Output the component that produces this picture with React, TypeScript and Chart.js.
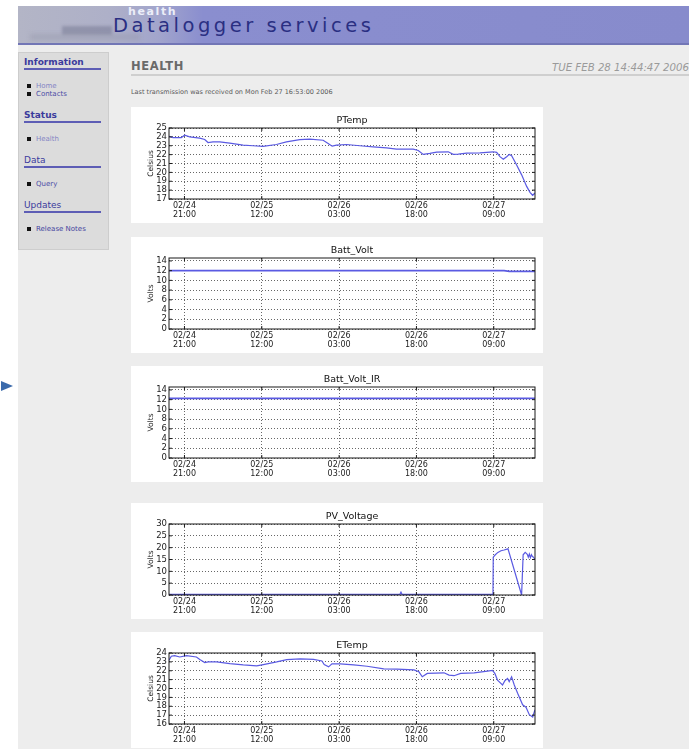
import React, { useEffect, useRef } from "react";
import { Chart, registerables } from "chart.js";

Chart.register(...registerables);

// Time axis: hours counted from 02/24 00:00
const axisStartHour = 18;
const axisEndHour = 89;
const tickHours = [21, 36, 51, 66, 81];
const tickDates = ["02/24", "02/25", "02/26", "02/26", "02/27"];
const tickTimes = ["21:00", "12:00", "03:00", "18:00", "09:00"];

// PTemp (Celsius)
const pTempHours = [18.0, 18.78, 20.39, 21.04, 22.01, 23.95, 24.93, 25.57, 26.54, 27.84, 29.78, 32.37, 34.31, 36.25, 38.84, 40.78, 43.37, 45.31, 47.9, 48.87, 49.65, 50.49, 52.43, 55.02, 57.61, 60.2, 62.14, 65.38, 66.35, 67.32, 68.61, 69.91, 72.17, 73.14, 74.11, 75.73, 78.32, 80.91, 81.56, 82.2, 82.85, 83.5, 84.01, 84.47, 85.44, 86.41, 87.38, 88.03, 88.54, 89.0];
const pTempValues = [24.07, 23.92, 23.92, 24.18, 24.0, 23.85, 23.7, 23.36, 23.44, 23.44, 23.3, 23.07, 23.0, 22.92, 23.14, 23.44, 23.7, 23.74, 23.62, 23.25, 22.95, 23.07, 23.14, 23.0, 22.88, 22.77, 22.62, 22.62, 22.47, 22.03, 22.14, 22.29, 22.32, 22.03, 22.06, 22.17, 22.2, 22.32, 22.25, 21.77, 21.47, 21.77, 22.03, 21.88, 20.84, 19.72, 18.42, 17.75, 17.42, 17.67];
const pTempTicks = [17, 18, 19, 20, 21, 22, 23, 24, 25];

// Batt_Volt (Volts)
const battVoltHours = [18, 36, 54, 72, 83, 84, 89];
const battVoltValues = [12.0, 12.0, 12.0, 12.0, 12.0, 11.85, 11.85];

// Batt_Volt_IR (Volts)
const battVoltIrHours = [18, 36, 54, 72, 89];
const battVoltIrValues = [12.25, 12.25, 12.25, 12.25, 12.25];
const voltTicks = [0, 2, 4, 6, 8, 10, 12, 14];

// PV_Voltage (Volts)
const pvHours = [18, 62.8, 63.0, 63.2, 80.85, 80.9, 81.3, 81.8, 82.4, 83.0, 83.76, 86.4, 86.7, 87.1, 87.5, 87.7, 87.9, 88.1, 88.3, 88.5, 88.7, 89];
const pvValues = [0.3, 0.3, 1.2, 0.3, 0.3, 16, 17, 18, 18.7, 19.0, 19.5, 0, 17, 18, 17.2, 16, 17.3, 15.8, 17, 16.2, 16, 15];
const pvTicks = [0, 5, 10, 15, 20, 25, 30];

// ETemp (Celsius)
const eTempHours = [18, 18.45, 19.1, 20.08, 21.37, 23.32, 23.97, 24.94, 25.59, 27.22, 29.81, 32.41, 35.0, 36.3, 38.9, 40.84, 43.44, 46.04, 47.66, 48.11, 48.96, 49.61, 51.23, 53.83, 56.42, 59.67, 62.26, 65.51, 66.48, 67.13, 68.1, 71.35, 72.32, 73.29, 74.59, 77.19, 79.78, 80.75, 81.21, 81.73, 82.38, 82.7, 83.16, 83.68, 84.0, 84.46, 84.98, 85.63, 86.6, 87.25, 87.9, 88.55, 89.0];
const eTempValues = [23.18, 23.63, 23.7, 23.55, 23.7, 23.55, 23.26, 22.92, 23.0, 23.0, 22.81, 22.66, 22.55, 22.7, 23.0, 23.26, 23.33, 23.29, 23.1, 22.7, 22.44, 22.77, 22.77, 22.66, 22.51, 22.22, 22.18, 22.1, 21.88, 21.32, 21.7, 21.77, 21.51, 21.44, 21.7, 21.77, 21.96, 22.03, 21.7, 20.95, 20.58, 20.4, 20.88, 21.14, 20.77, 21.32, 20.4, 19.46, 18.16, 17.9, 17.05, 16.79, 17.6];
const eTempTicks = [16, 17, 18, 19, 20, 21, 22, 23, 24];

const FONT = '"DejaVu Sans", Verdana, sans-serif';
const LINE_COLOR = "#5a5ae2";

// Solid frame around the plot area with short inward tick marks on all four sides
const framePlugin = {
  id: "plotFrame",
  afterDraw(chart: any) {
    const { ctx, chartArea } = chart;
    const { left, top, right, bottom } = chartArea;
    const xs = chart.scales.x;
    const ys = chart.scales.y;
    ctx.save();
    ctx.strokeStyle = "#1a1a1a";
    ctx.lineWidth = 1;
    ctx.strokeRect(left, top, right - left, bottom - top);
    ctx.beginPath();
    for (const t of xs.ticks) {
      const px = xs.getPixelForValue(t.value);
      ctx.moveTo(px, bottom);
      ctx.lineTo(px, bottom - 3);
      ctx.moveTo(px, top);
      ctx.lineTo(px, top + 3);
    }
    for (const t of ys.ticks) {
      const py = ys.getPixelForValue(t.value);
      ctx.moveTo(left, py);
      ctx.lineTo(left + 3, py);
      ctx.moveTo(right, py);
      ctx.lineTo(right - 3, py);
    }
    ctx.stroke();
    ctx.restore();
  },
};

type SeriesProps = {
  title: string;
  yLabel: string;
  hours: number[];
  values: number[];
  yTicks: number[];
  yMax: number;
  top: number;
  lineWidth?: number;
};

function SeriesChart({ title, yLabel, hours, values, yTicks, yMax, top, lineWidth = 1.2 }: SeriesProps) {
  const ref = useRef<HTMLCanvasElement | null>(null);

  useEffect(() => {
    if (!ref.current) return;
    const gridStyle = {
      color: "rgba(0,0,0,0.75)",
      lineWidth: 0.8,
      drawTicks: false,
    };
    const chart = new Chart(ref.current, {
      type: "line",
      data: {
        datasets: [
          {
            data: hours.map((h, i) => ({ x: h, y: values[i] })),
            borderColor: LINE_COLOR,
            borderWidth: lineWidth,
            pointRadius: 0,
            tension: 0,
            fill: false,
          },
        ],
      },
      options: {
        animation: false,
        responsive: false,
        maintainAspectRatio: false,
        layout: { padding: { left: 0, right: 8, top: 0, bottom: 0 } },
        plugins: {
          legend: { display: false },
          tooltip: { enabled: false },
          title: {
            display: true,
            text: title,
            fullSize: false,
            color: "#111",
            font: { family: FONT, size: 9.5, weight: "normal" },
            padding: { top: 8, bottom: 1.6 },
          },
        },
        scales: {
          x: {
            type: "linear",
            min: axisStartHour,
            max: axisEndHour,
            afterBuildTicks: (s: any) => {
              s.ticks = tickHours.map((v) => ({ value: v }));
            },
            afterFit: (s: any) => {
              s.height = 24;
            },
            ticks: {
              autoSkip: false,
              maxRotation: 0,
              padding: 2,
              color: "#222",
              font: { family: FONT, size: 8, lineHeight: 1.15 },
              callback: (v: any) => {
                const i = tickHours.indexOf(Number(v));
                return i >= 0 ? [tickDates[i], tickTimes[i]] : "";
              },
            },
            grid: gridStyle,
            border: { display: false, dash: [1, 2] },
          },
          y: {
            min: yTicks[0],
            max: yMax,
            afterBuildTicks: (s: any) => {
              s.ticks = yTicks.map((v) => ({ value: v }));
            },
            afterFit: (s: any) => {
              s.width = 38;
            },
            ticks: {
              autoSkip: false,
              padding: 2,
              color: "#222",
              font: { family: FONT, size: 8.5 },
            },
            title: {
              display: true,
              text: yLabel,
              color: "#222",
              font: { family: FONT, size: 7.5 },
              padding: { top: 15.5, bottom: 0 },
            },
            grid: gridStyle,
            border: { display: false, dash: [1, 2] },
          },
        },
      },
      plugins: [framePlugin],
    } as any);
    return () => chart.destroy();
  }, []);

  return (
    <canvas
      ref={ref}
      width={412}
      height={116}
      style={{ position: "absolute", left: 131, top, width: 412, height: 116, background: "#fff" }}
    />
  );
}

const txt = (extra: React.CSSProperties): React.CSSProperties => ({
  position: "absolute",
  whiteSpace: "nowrap",
  lineHeight: 1.2,
  ...extra,
});

function Bullet({ top }: { top: number }) {
  return <div style={{ position: "absolute", left: 27, top, width: 4, height: 4, background: "#111" }} />;
}

function SideHeading({ label, top, bold }: { label: string; top: number; bold: boolean }) {
  return (
    <>
      <div style={txt({ left: 24, top: top - 6, fontSize: 9, fontWeight: bold ? "bold" : "normal", color: "#3b3b9c" })}>{label}</div>
      <div style={{ position: "absolute", left: 24, top: top + 5, width: 77, height: 2, background: "#5d5db5" }} />
    </>
  );
}

function SideLink({ label, top, color }: { label: string; top: number; color: string }) {
  return (
    <>
      <Bullet top={top - 2} />
      <div style={txt({ left: 36, top: top - 4.5, fontSize: 7, color })}>{label}</div>
    </>
  );
}

export default function App() {
  return (
    <div
      style={{
        position: "absolute",
        left: 0,
        top: 0,
        width: 695,
        height: 749,
        overflow: "hidden",
        background: "#fff",
        fontFamily: FONT,
      }}
    >
      {/* content background */}
      <div style={{ position: "absolute", left: 18, top: 44, width: 671, height: 705, background: "#ededed" }} />

      {/* header banner */}
      <div
        style={{
          position: "absolute",
          left: 18,
          top: 6,
          width: 671,
          height: 37,
          background: "linear-gradient(90deg, #b3b5c6 0px, #aeb0c8 90px, #a2a5cc 140px, #8a8ecf 185px, #878bcc 100%)",
          borderBottom: "2px solid #7276b6",
        }}
      />
      <div style={{ position: "absolute", left: 62, top: 26, width: 50, height: 9, background: "rgba(90,92,120,0.35)", filter: "blur(1.5px)" }} />
      <div style={{ position: "absolute", left: 30, top: 34, width: 110, height: 6, background: "rgba(150,152,170,0.45)", filter: "blur(2px)" }} />
      <div style={txt({ left: 128, top: 5, fontSize: 11, fontWeight: "bold", letterSpacing: 1.6, color: "#eceef8" })}>health</div>
      <div style={txt({ left: 113, top: 14, fontSize: 19.5, letterSpacing: 3.5, color: "#2a2f82" })}>Datalogger services</div>

      {/* arrow marker at left edge */}
      <div
        style={{
          position: "absolute",
          left: 1,
          top: 381,
          width: 0,
          height: 0,
          borderTop: "5px solid transparent",
          borderBottom: "5px solid transparent",
          borderLeft: "12px solid #3b6aab",
          filter: "blur(0.6px)",
        }}
      />

      {/* sidebar */}
      <div style={{ position: "absolute", left: 18, top: 52, width: 89, height: 196, background: "#dcdcdc", border: "1px solid #cdcdcd" }} />
      <SideHeading label="Information" top={63} bold={true} />
      <SideLink label="Home" top={86} color="#8585c4" />
      <SideLink label="Contacts" top={94} color="#4d4da6" />
      <SideHeading label="Status" top={116} bold={true} />
      <SideLink label="Health" top={139} color="#8585c4" />
      <SideHeading label="Data" top={161} bold={false} />
      <SideLink label="Query" top={184} color="#4d4da6" />
      <SideHeading label="Updates" top={206} bold={false} />
      <SideLink label="Release Notes" top={229} color="#4646a0" />

      {/* page heading */}
      <div style={txt({ left: 131, top: 60, fontSize: 11.5, fontWeight: "bold", letterSpacing: 0.6, color: "#6a6a6a" })}>HEALTH</div>
      <div style={txt({ left: 480, top: 62, width: 209, textAlign: "right", fontSize: 10.2, fontStyle: "italic", color: "#9a9a9a" })}>
        TUE FEB 28 14:44:47 2006
      </div>
      <div style={{ position: "absolute", left: 131, top: 74, width: 558, height: 2, background: "#cfcfcf" }} />
      <div style={txt({ left: 131, top: 89, fontSize: 6.5, color: "#5a5a5a" })}>
        Last transmission was received on Mon Feb 27 16:53:00 2006
      </div>

      {/* sensor charts */}
      <SeriesChart title="PTemp" yLabel="Celsius" hours={pTempHours} values={pTempValues} yTicks={pTempTicks} yMax={25} top={107} />
      <SeriesChart title="Batt_Volt" yLabel="Volts" hours={battVoltHours} values={battVoltValues} yTicks={voltTicks} yMax={14.6} top={237} lineWidth={1.6} />
      <SeriesChart title="Batt_Volt_IR" yLabel="Volts" hours={battVoltIrHours} values={battVoltIrValues} yTicks={voltTicks} yMax={14.6} top={366} lineWidth={1.8} />
      <SeriesChart title="PV_Voltage" yLabel="Volts" hours={pvHours} values={pvValues} yTicks={pvTicks} yMax={30} top={503} />
      <SeriesChart title="ETemp" yLabel="Celsius" hours={eTempHours} values={eTempValues} yTicks={eTempTicks} yMax={24} top={632} />
    </div>
  );
}
